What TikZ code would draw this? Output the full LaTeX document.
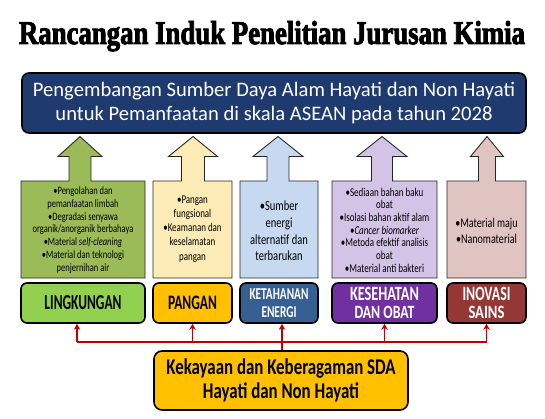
\documentclass[tikz,border=0pt]{standalone}
\usepackage{fontspec}
\usepackage{graphicx}
\usepackage{xcolor}
\setmainfont{Carlito}
\newfontfamily\condfont[FakeStretch=0.75]{Carlito}
\newfontfamily\titlefont[FakeBold=3]{Liberation Serif}
\usetikzlibrary{arrows.meta}

\definecolor{navy}{HTML}{1F3A6E}
\definecolor{lgreen}{HTML}{92D050}
\definecolor{olive}{HTML}{9BBB59}
\definecolor{gold}{HTML}{FFC000}
\definecolor{cream}{HTML}{FDEBB6}
\definecolor{steel}{HTML}{376092}
\definecolor{sky}{HTML}{C6D9F0}
\definecolor{grape}{HTML}{7030A0}
\definecolor{lilac}{HTML}{D3C3E6}
\definecolor{maroon}{HTML}{953735}
\definecolor{blush}{HTML}{E0C4C2}
\definecolor{darkred}{HTML}{C00000}

% block arrow: left, right, head centre, head half width, shaft half width, fill
\newcommand{\colarrow}[6]{%
  \draw[colframe, fill=#6] (#1,278) -- (#1,181) -- (#3-#5,181) -- (#3-#5,156.5)
    -- (#3-#4,156.5) -- (#3,136.5) -- (#3+#4,156.5) -- (#3+#5,156.5)
    -- (#3+#5,181) -- (#2,181) -- (#2,278) -- cycle;}
% one label line squeezed to width x cap height
\newcommand{\fitline}[3]{\resizebox{#1}{#2}{\bfseries #3}}

\begin{document}
\begin{tikzpicture}[
    x=1pt, y=-1pt,
    colframe/.style={
        draw=black!85,
        line width=0.9pt
    },
    bodytext/.style={
        align=center,
        inner sep=0pt
    },
    topic/.style={
        draw=black,
        line width=1.6pt,
        rounded corners=6pt,
        minimum height=40pt,
        align=center,
        inner sep=1pt,
        font=\fontsize{12}{18}\selectfont
    },
    goalbox/.style={
        draw=black,
        line width=1.6pt,
        rounded corners=7pt,
        fill=navy,
        text=white,
        minimum width=504pt,
        minimum height=60pt,
        align=center,
        font=\fontsize{20.6}{24.5}\selectfont
    },
    sdabox/.style={
        draw=black,
        line width=1.6pt,
        rounded corners=8pt,
        fill=gold,
        minimum width=254pt,
        minimum height=59pt,
        align=center,
        font=\condfont\bfseries\fontsize{22.5}{24}\selectfont
    },
    busline/.style={
        draw=darkred,
        line width=1.5pt
    },
    busarrow/.style={
        busline,
        -{Stealth[length=6pt,width=6.5pt]}
    }
]
\useasboundingbox (0,0) rectangle (545,419);

% title
\node[anchor=base, inner sep=0pt] (title) at (272,44)
    {\resizebox{506pt}{23pt}{\titlefont\bfseries Rancangan Induk Penelitian Jurusan Kimia}};

% goal
\node[goalbox] (goal) at (274,103)
    {Pengembangan Sumber Daya Alam Hayati dan Non Hayati\\untuk Pemanfaatan di skala ASEAN pada tahun 2028};

% research columns
\colarrow{21}{145}{80}{22}{11}{olive}
\colarrow{153}{232}{193}{24.5}{11.5}{cream}
\colarrow{240}{318}{278}{25}{11}{sky}
\colarrow{332}{437}{382}{25}{10.5}{lilac}
\colarrow{447}{526}{487}{16.5}{8.5}{blush}

\node[bodytext, font=\condfont\fontsize{11.3}{12.7}\selectfont] (ling) at (83,230)
    {\textbullet Pengolahan dan\\pemanfaatan limbah\\\textbullet Degradasi senyawa\\organik/anorganik berbahaya\\\textbullet Material \textit{self-cleaning}\\\textbullet Material dan teknologi\\penjernihan air};
\node[bodytext, font=\condfont\fontsize{11.9}{14.2}\selectfont] (pangan) at (192.5,229)
    {\textbullet Pangan\\fungsional\\\textbullet Keamanan dan\\keselamatan\\pangan};
\node[bodytext, font=\condfont\fontsize{14}{16.6}\selectfont] (energi) at (279,231)
    {\textbullet Sumber\\energi\\alternatif dan\\terbarukan};
\node[bodytext, font=\condfont\fontsize{12}{12.7}\selectfont] (obat) at (384.5,230)
    {\textbullet Sediaan bahan baku\\obat\\\textbullet Isolasi bahan aktif alam\\\textbullet\textit{Cancer biomarker}\\\textbullet Metoda efektif analisis\\obat\\\textbullet Material anti bakteri};
\node[bodytext, font=\condfont\fontsize{13.4}{16.7}\selectfont] (sains) at (486.5,231)
    {\textbullet Material maju\\\textbullet Nanomaterial};

% topic labels
\node[topic, fill=lgreen, minimum width=124pt] (lingLbl) at (83,303)
    {\fitline{77pt}{14pt}{LINGKUNGAN}};
\node[topic, fill=gold, minimum width=79pt] (panganLbl) at (192.5,303)
    {\fitline{49pt}{13.5pt}{PANGAN}};
\node[topic, fill=steel, text=white, minimum width=78pt] (energiLbl) at (279,303)
    {\fitline{59pt}{10.8pt}{KETAHANAN}\\\fitline{35pt}{10.8pt}{ENERGI}};
\node[topic, fill=grape, text=white, minimum width=105pt] (obatLbl) at (384.5,303)
    {\fitline{69pt}{13.3pt}{KESEHATAN}\\\fitline{60pt}{12.3pt}{DAN OBAT}};
\node[topic, fill=maroon, text=white, minimum width=79pt] (sainsLbl) at (486.5,303)
    {\fitline{48pt}{13.3pt}{INOVASI}\\\fitline{36pt}{12.3pt}{SAINS}};

% source
\node[sdabox] (sda) at (281,380.5) {Kekayaan dan Keberagaman SDA\\Hayati dan Non Hayati};

\coordinate (bus) at (0,342);
\draw[busline] ([xshift=-6pt]lingLbl.south |- bus) -- (sainsLbl.south |- bus);
\draw[busarrow] ([xshift=-6pt]lingLbl.south |- bus) -- ([xshift=-6pt]lingLbl.south);
\draw[busarrow] (panganLbl.south |- bus) -- (panganLbl.south);
\draw[busarrow] ([xshift=3pt]energiLbl.south |- sda.north) -- ([xshift=3pt]energiLbl.south);
\draw[busarrow] (obatLbl.south |- bus) -- (obatLbl.south);
\draw[busarrow] (sainsLbl.south |- bus) -- (sainsLbl.south);

\end{tikzpicture}
\end{document}
